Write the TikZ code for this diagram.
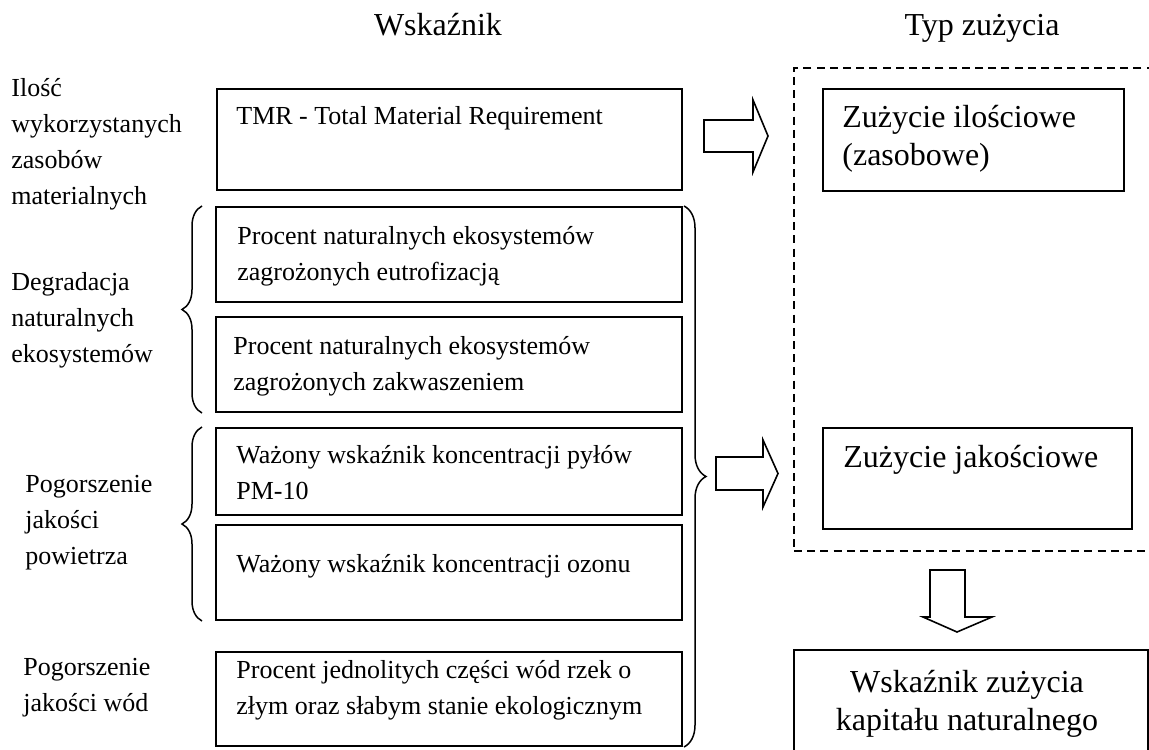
\documentclass[tikz,border=0pt]{standalone}
\usepackage{fontspec}
\setmainfont{Liberation Serif}
\usetikzlibrary{fit,decorations.pathreplacing}

\tikzset{
  ibox/.style={draw,line width=1pt,inner sep=0pt},
  frame/.style={draw,line width=0.8pt,dash pattern=on 4pt off 2.6pt,inner sep=0pt},
  small/.style={font=\fontsize{13}{18}\selectfont,inner sep=0pt,anchor=north west,align=left},
  big/.style={font=\fontsize{16}{19}\selectfont,inner sep=0pt,align=left},
  curly/.style={decorate,line width=0.75pt},
  blk/.style={draw,line width=0.8pt,line join=miter}
}

\begin{document}
\begin{tikzpicture}[x=0.5pt,y=-0.5pt]
    \clip (0,0) rectangle (1149,749);

    % column titles
    \node[big,anchor=base] (twsk) at (438,36) {Wskaźnik};
    \node[big,anchor=base] (ttyp) at (982,36) {Typ zużycia};

    % indicator boxes
    \node[ibox,fit={(217,89) (682,190)}] (tmr) {};
    \node[ibox,fit={(216,207) (682,302)}] (eutr) {};
    \node[ibox,fit={(216,317) (682,412)}] (zakw) {};
    \node[ibox,fit={(216,428) (682,515)}] (pm) {};
    \node[ibox,fit={(216,525) (682,620)}] (ozon) {};
    \node[ibox,fit={(216,652) (682,746)}] (wody) {};

    \node[small] at ([shift={(20,10.8)}]tmr.north west) {\strut TMR - Total Material Requirement};
    \node[small] at ([shift={(22,12.8)}]eutr.north west) {\strut Procent naturalnych ekosystemów\\ zagrożonych eutrofizacją};
    \node[small] at ([shift={(18,12.8)}]zakw.north west) {\strut Procent naturalnych ekosystemów\\ zagrożonych zakwaszeniem};
    \node[small] at ([shift={(21,10.8)}]pm.north west) {\strut Ważony wskaźnik koncentracji pyłów\\ PM-10};
    \node[small] at ([shift={(21,22.8)}]ozon.north west) {\strut Ważony wskaźnik koncentracji ozonu};
    \node[small] at ([shift={(21,1.8)}]wody.north west) {\strut Procent jednolitych części wód rzek o\\ złym oraz słabym stanie ekologicznym};

    % left labels
    \node[small] (lzas) at (11,70.8) {\strut Ilość\\ wykorzystanych\\ zasobów\\ materialnych};
    \node[small] (leko) at (11,264.8) {\strut Degradacja\\ naturalnych\\ ekosystemów};
    \node[small] (lpow) at (25,466.8) {\strut Pogorszenie\\ jakości\\ powietrza};
    \node[small] (lwod) at (23,649.8) {\strut Pogorszenie\\ jakości wód};

    % braces
    \draw[curly,decoration={brace,amplitude=10pt}] ([shift={(-13,0)}]zakw.south west) -- ([shift={(-13,0)}]eutr.north west);
    \draw[curly,decoration={brace,amplitude=10pt}] ([shift={(-13,0)}]ozon.south west) -- ([shift={(-13,0)}]pm.north west);
    \draw[curly,decoration={brace,amplitude=11pt}] ([shift={(1,0)}]eutr.north east) -- ([shift={(1,0)}]wody.south east);

    % type of use
    \node[frame,fit={(794,68) (1175,551)}] (typ) {};
    \node[ibox,fit={(823,89) (1124,191)}] (ilosc) {};
    \node[ibox,fit={(823,428) (1132,529)}] (jakosc) {};
    \node[big,anchor=north west] at ([shift={(20,12.4)}]ilosc.north west) {\strut Zużycie ilościowe\\ (zasobowe)};
    \node[big,anchor=north west] at ([shift={(21,13.4)}]jakosc.north west) {\strut Zużycie jakościowe};

    \node[ibox,fit={(794,650) (1148,775)}] (kap) {};
    \node[big,anchor=north,align=center] at (967,665.4) {\strut Wskaźnik zużycia\\ kapitału naturalnego};

    % block arrows
    \draw[blk] ([shift={(21,-19.5)}]tmr.east) -- ++(49,0) -- ++(0,-20) -- ++(15,36) -- ++(-15,36) -- ++(0,-20) -- ++(-49,0) -- cycle;
    \coordinate (a2) at (716,457);
    \draw[blk] (a2) -- ++(47,0) -- ++(0,-17) -- ++(15,33.5) -- ++(-15,33.5) -- ++(0,-17) -- ++(-47,0) -- cycle;
    \coordinate (a3) at (930,570);
    \draw[blk] (a3) -- ++(35,0) -- ++(0,47) -- ++(27,0) -- ++(-35,15) -- ++(-34,-15) -- ++(7,0) -- cycle;
\end{tikzpicture}
\end{document}
